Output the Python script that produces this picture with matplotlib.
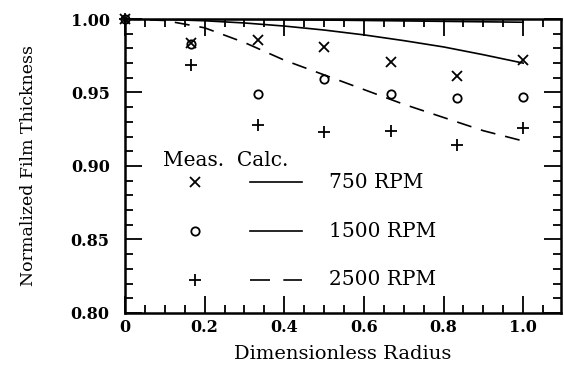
#!/usr/bin/python3

import matplotlib
matplotlib.use('Agg')
import matplotlib.pyplot as plt
from matplotlib.ticker import MultipleLocator, FormatStrFormatter

r_meas = [0.0, 0.167, 0.333, 0.5, 0.667, 0.833, 1.0]
meas_750 = [1.0, 0.984, 0.986, 0.981, 0.971, 0.961, 0.972]
meas_1500 = [1.0, 0.983, 0.949, 0.959, 0.949, 0.946, 0.947]
meas_2500 = [1.0, 0.969, 0.928, 0.923, 0.924, 0.914, 0.926]

# calculated curves
r_calc = [0.0, 0.1, 0.2, 0.3, 0.4, 0.5, 0.6, 0.7, 0.8, 0.9, 1.0]
calc_750 = [1.0, 0.9997, 0.9988, 0.9973, 0.9952, 0.9925, 0.9892, 0.9853, 0.981, 0.9757, 0.970]
calc_1500 = [1.0, 1.0, 0.9999, 0.9998, 0.9996, 0.9993, 0.999, 0.9987, 0.9984, 0.9981, 0.9978]
calc_2500 = [1.0, 0.999, 0.994, 0.984, 0.972, 0.962, 0.952, 0.942, 0.933, 0.924, 0.917]

labels = ['750 RPM', '1500 RPM', '2500 RPM']
markers = ['x', 'o', '+']
marker_sizes = [7, 6, 9]
line_styles = ['-', '-', (0, (9, 6))]
legend_styles = ['-', '-', (0, (12, 8))]

FONT = 'DejaVu Serif'


def main():
    plt.rcParams['font.family'] = FONT
    fig = plt.figure(figsize=(5.64, 3.77), dpi=100)
    ax = fig.add_axes([0.2216, 0.1698, 0.7731, 0.7798])

    meas = [meas_750, meas_1500, meas_2500]
    calc = [calc_750, calc_1500, calc_2500]

    for i in range(3):
        ax.plot(r_calc, calc[i], color='black', lw=1.2, linestyle=line_styles[i])
        ax.plot(r_meas, meas[i], linestyle='none', marker=markers[i],
                ms=marker_sizes[i], mfc='none', mec='black', mew=1.3, clip_on=False)

    ax.set_xlim(0, 1.095)
    ax.set_ylim(0.80, 1.00)
    ax.xaxis.set_minor_locator(MultipleLocator(0.05))
    ax.yaxis.set_major_locator(MultipleLocator(0.05))
    ax.yaxis.set_minor_locator(MultipleLocator(0.01))
    ax.yaxis.set_major_formatter(FormatStrFormatter('%.2f'))
    ax.set_xticks([0.0, 0.2, 0.4, 0.6, 0.8, 1.0])
    ax.set_xticklabels(['0', '0.2', '0.4', '0.6', '0.8', '1.0'])
    for t in ax.get_xticklabels() + ax.get_yticklabels():
        t.set_fontweight('bold')

    ax.tick_params(which='both', direction='in', top=True, right=True,
                   labelsize=11.5, width=1.3)
    ax.tick_params(axis='x', pad=4)
    ax.tick_params(axis='y', pad=11)
    ax.tick_params(which='major', length=12)
    ax.tick_params(which='minor', length=6)
    for s in ax.spines.values():
        s.set_linewidth(1.8)

    ax.set_xlabel('Dimensionless Radius', fontsize=14, labelpad=7)
    ax.set_ylabel('Normalized Film Thickness', fontsize=12.5, labelpad=24)

    # hand-made legend: Meas. column, Calc. column, label
    ax.text(0.087, 0.52, 'Meas.  Calc.', transform=ax.transAxes,
            fontsize=14.5, va='center', ha='left')
    rows_y = [0.445, 0.278, 0.113]
    for i in range(3):
        y = rows_y[i]
        ax.plot([0.16], [y], transform=ax.transAxes, linestyle='none',
                marker=markers[i], ms=marker_sizes[i], mfc='none', mec='black', mew=1.3)
        ax.plot([0.286, 0.406], [y, y], transform=ax.transAxes, color='black',
                lw=1.2, linestyle=legend_styles[i])
        ax.text(0.468, y, labels[i], transform=ax.transAxes,
                fontsize=14.5, va='center', ha='left')

    plt.savefig('out.png', dpi=100)
    plt.close()


if __name__ == "__main__":
    main()
